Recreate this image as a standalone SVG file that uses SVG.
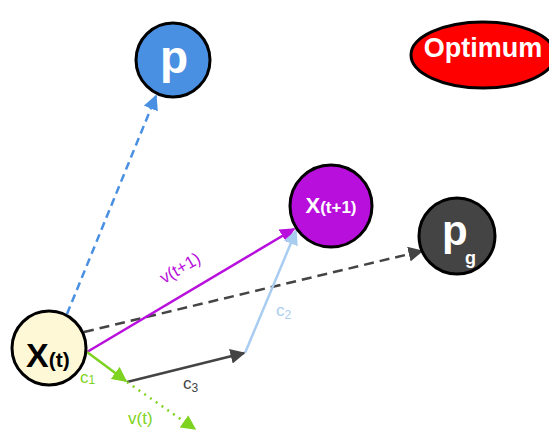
<svg xmlns="http://www.w3.org/2000/svg" width="549" height="432" viewBox="0 0 549 432">
<style>
text{font-family:"Liberation Sans",Arial,sans-serif;font-weight:bold}
.node{stroke:#000;stroke-width:3}
.lbl{font-weight:normal;font-size:17px}
</style>
<defs>
<marker id="aBlue" viewBox="0 0 10 10" refX="9" refY="5" markerWidth="6" markerHeight="6" orient="auto" markerUnits="strokeWidth"><path d="M0,0L10,5L0,10z" fill="#4a90e2"/></marker>
<marker id="aGray" viewBox="0 0 10 10" refX="9" refY="5" markerWidth="6" markerHeight="6" orient="auto" markerUnits="strokeWidth"><path d="M0,0L10,5L0,10z" fill="#444"/></marker>
<marker id="aMag" viewBox="0 0 10 10" refX="9" refY="5" markerWidth="6" markerHeight="6" orient="auto" markerUnits="strokeWidth"><path d="M0,0L10,5L0,10z" fill="#b80fdc"/></marker>
<marker id="aLb" viewBox="0 0 10 10" refX="9" refY="5" markerWidth="6" markerHeight="6" orient="auto" markerUnits="strokeWidth"><path d="M0,0L10,5L0,10z" fill="#a9cdf1"/></marker>
<marker id="aGr" viewBox="0 0 10 10" refX="9" refY="5" markerWidth="6" markerHeight="6" orient="auto" markerUnits="strokeWidth"><path d="M0,0L10,5L0,10z" fill="#7ed321"/></marker>
</defs>
<g id="connectors" fill="none" stroke-width="2.5">
<path d="M67,314L156,96" stroke="#4a90e2" stroke-dasharray="8,5" marker-end="url(#aBlue)"/>
<path d="M84,332L422,251" stroke="#444" stroke-dasharray="10,6" marker-end="url(#aGray)"/>
<path d="M87,352L294,229" stroke="#b80fdc" marker-end="url(#aMag)"/>
<path d="M245,353L296,231" stroke="#a9cdf1" marker-end="url(#aLb)"/>
<path d="M127,382L244,353" stroke="#444" marker-end="url(#aGray)"/>
<path d="M127,382L195,429" stroke="#7ed321" stroke-dasharray="2,5" marker-end="url(#aGr)"/>
<path d="M87,352L126,381" stroke="#7ed321" marker-end="url(#aGr)"/>
<text class="lbl" x="0" y="0" fill="#b80fdc" stroke="none" transform="translate(183,273) rotate(-30)" text-anchor="middle">v(t+1)</text>
<text class="lbl" x="276" y="316" fill="#a9cdf1" stroke="none">c<tspan font-size="12" dy="3">2</tspan></text>
<text class="lbl" x="183" y="389" fill="#444" stroke="none">c<tspan font-size="12" dy="3">3</tspan></text>
<text class="lbl" x="80" y="383" fill="#7ed321" stroke="none">c<tspan font-size="12" dy="1">1</tspan></text>
<text class="lbl" x="128" y="424" fill="#7ed321" stroke="none">v(t)</text>
</g>
<g id="x_t"><circle class="node" cx="49" cy="348" r="37" fill="#fff8d6"/><text x="26" y="367" font-size="34" fill="#000">X<tspan font-size="21">(t)</tspan></text></g>
<g id="p"><circle class="node" cx="173" cy="60" r="37" fill="#4a90e2"/><text x="174" y="73" font-size="46" fill="#fff" text-anchor="middle">p</text></g>
<g id="optimum"><ellipse class="node" cx="483" cy="55" rx="72" ry="33" fill="#f00"/><text x="483" y="57" font-size="27" fill="#fff" text-anchor="middle">Optimum</text></g>
<g id="x_t1"><circle class="node" cx="331" cy="206" r="41" fill="#b80fdc"/><text x="331" y="213" font-size="22" fill="#fff" text-anchor="middle">X<tspan font-size="17">(t+1)</tspan></text></g>
<g id="p_g"><circle class="node" cx="457" cy="236" r="38" fill="#444"/><text x="442" y="245" font-size="42" fill="#fff">p</text><text x="465" y="264" font-size="18" font-weight="normal" fill="#fff">g</text></g>
</svg>
